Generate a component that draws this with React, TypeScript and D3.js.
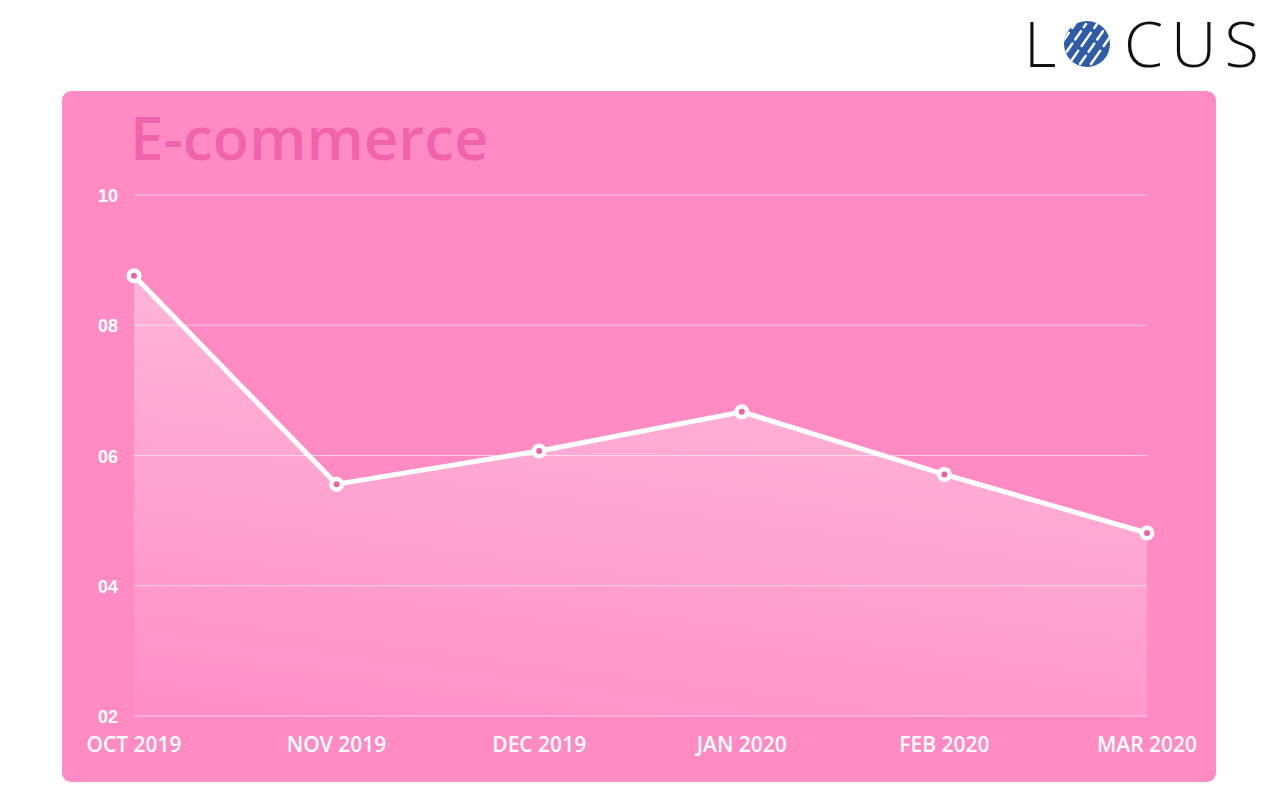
import React from "react";
import * as d3 from "d3";

const months = ["OCT 2019", "NOV 2019", "DEC 2019", "JAN 2020", "FEB 2020", "MAR 2020"];
const values = [8.76, 5.56, 6.07, 6.67, 5.71, 4.81];
const yTicks = [2, 4, 6, 8, 10];
const yTickLabels = ["02", "04", "06", "08", "10"];
const title = "E-commerce";

export default function App() {
  const W = 1280, H = 800;
  const x = d3.scalePoint<string>().domain(months).range([134, 1147]);
  const y = d3.scaleLinear().domain([2, 10]).range([716, 195]);
  const pts = months.map((m, i) => ({ m, v: values[i] }));
  const line = d3.line<any>().x(d => x(d.m)!).y(d => y(d.v));
  const area = d3.area<any>().x(d => x(d.m)!).y0(y(2)).y1(d => y(d.v));
  const gx = 1087, gy = 44, gr = 23;
  const stripes = [-26, -15, -4, 7, 18];
  return (
    <svg width={W} height={H} style={{ position: "absolute", left: 0, top: 0 }}>
      <defs>
        <linearGradient id="areaGrad" x1="0.3" y1="0" x2="0" y2="1">
          <stop offset="0" stopColor="#ffffff" stopOpacity={0.38} />
          <stop offset="1" stopColor="#ffffff" stopOpacity={0.04} />
        </linearGradient>
        <clipPath id="globeClip">
          <circle cx={gx} cy={gy} r={gr} />
        </clipPath>
      </defs>
      <rect x={0} y={0} width={W} height={H} fill="#ffffff" />
      {/* Logo */}
      <g fontFamily="'Open Sans', Lato, sans-serif" fontWeight={300} fill="#111">
        <text x={1024} y={67} fontSize={63}>L</text>
        <circle cx={gx} cy={gy} r={gr} fill="#2f5ca6" />
        <g clipPath="url(#globeClip)" stroke="#ffffff" strokeWidth={2.5} strokeLinecap="round">
          {stripes.map((s, i) => (
            <line key={i} x1={gx + s - 14} y1={gy + 20} x2={gx + s + 14} y2={gy - 20} strokeDasharray={i % 2 ? "10 5" : "16 6"} />
          ))}
        </g>
        <text x={1124} y={67} fontSize={63} letterSpacing={8}>CUS</text>
      </g>
      {/* Card */}
      <rect x={62} y={91} width={1154} height={691} rx={9} fill="#ff8ac4" />
      <text x={130} y={160} fontFamily="'Open Sans', sans-serif" fontWeight={600} fontSize={60} fill="#ef64aa">{title}</text>
      {/* Grid */}
      {yTicks.map((t, i) => (
        <g key={t}>
          <line x1={134} x2={1147} y1={y(t)} y2={y(t)} stroke="#ffffff" strokeOpacity={0.55} strokeWidth={1} />
          <text x={108} y={y(t) + 7} textAnchor="middle" fontFamily="'Liberation Sans', Arial, sans-serif" fontWeight={700} fontSize={18} fill="#ffffff">{yTickLabels[i]}</text>
        </g>
      ))}
      <path d={area(pts)!} fill="url(#areaGrad)" />
      <path d={line(pts)!} fill="none" stroke="#ffffff" strokeWidth={5} strokeLinejoin="round" />
      {pts.map(p => (
        <g key={p.m}>
          <circle cx={x(p.m)} cy={y(p.v)} r={7.5} fill="#ffffff" />
          <circle cx={x(p.m)} cy={y(p.v)} r={3} fill="#ef5fa6" />
        </g>
      ))}
      {months.map(m => (
        <text key={m} x={x(m)} y={752} textAnchor="middle" fontFamily="'Open Sans', sans-serif" fontWeight={600} fontSize={21} fill="#ffffff">{m}</text>
      ))}
    </svg>
  );
}
